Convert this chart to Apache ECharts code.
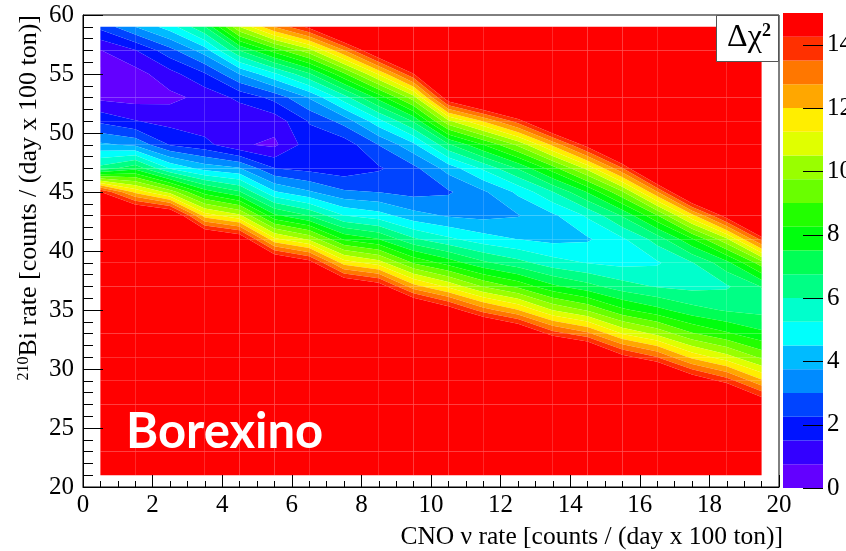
<!DOCTYPE html>
<html>
<head>
<meta charset="utf-8">
<title>CNO vs 210Bi scan</title>
<script src="https://cdn.jsdelivr.net/npm/echarts@6/dist/echarts.min.js"></script>
<style>
  html, body { margin: 0; padding: 0; background: #fff; }
  #chart { width: 846px; height: 551px; }
</style>
</head>
<body>
<div id="chart"></div>
<script>
// Scan grid: CNO nu rate (columns) and 210Bi rate (rows, top row first)
const cnoRate = [0.5, 1.5, 2.5, 3.5, 4.5, 5.5, 6.5, 7.5, 8.5, 9.5, 10.5, 11.5, 12.5, 13.5, 14.5, 15.5, 16.5, 17.5, 18.5, 19.5];
const biRate = [59, 57, 55, 53, 51, 49, 47, 45, 43, 41, 39, 37, 35, 33, 31, 29, 27, 25, 23, 21];

// Delta chi-square at each grid node, one row per 210Bi rate
const deltaChi2 = [
  [2.46, 3.75, 4.88, 6.73, 10.5, 12.8, 14.5, 17.3, 20.5, 24.4, 34.3, 35.2, 36.6, 40.8, 45.2, 51.7, 63.6, 76.7, 86.4, 105.9],
  [0.72, 1.45, 2.73, 4.13, 6.75, 8.57, 10.2, 12.7, 15.6, 19.0, 27.0, 28.3, 29.9, 33.7, 37.8, 43.7, 54.0, 65.6, 74.4, 91.6],
  [0.30, 0.45, 1.22, 2.17, 3.77, 5.11, 6.63, 8.85, 11.35, 14.2, 20.6, 22.1, 23.9, 27.3, 31.0, 36.2, 45.1, 55.2, 63.2, 78.3],
  [0.56, 0.45, 0.55, 0.97, 1.70, 2.49, 3.80, 5.66, 7.79, 10.16, 15.0, 16.7, 18.5, 21.6, 24.9, 29.4, 37.0, 45.7, 52.8, 65.8],
  [2.10, 1.54, 1.25, 1.01, 0.78, 1.05, 2.30, 3.28, 4.98, 6.83, 10.32, 12.03, 13.82, 16.5, 19.4, 23.3, 29.7, 37.0, 43.3, 54.5],
  [3.90, 3.60, 2.20, 1.75, 0.85, 0.60, 1.90, 1.82, 3.02, 4.32, 6.62, 8.23, 9.90, 12.18, 14.68, 18.0, 23.1, 29.3, 34.6, 44.1],
  [6.30, 7.30, 5.20, 4.20, 3.82, 2.27, 2.00, 1.79, 2.15, 2.78, 4.05, 5.37, 6.81, 8.64, 10.71, 13.40, 17.45, 22.4, 27.0, 34.7],
  [14.30, 11.80, 10.20, 7.87, 6.84, 4.59, 3.85, 3.11, 2.98, 2.74, 2.90, 3.62, 4.66, 5.98, 7.56, 9.65, 12.69, 16.54, 20.3, 26.5],
  [19.3, 16.4, 15.77, 11.66, 10.66, 7.68, 6.72, 5.26, 4.83, 4.02, 3.67, 3.53, 3.70, 4.35, 5.37, 6.84, 8.94, 11.75, 14.75, 19.48],
  [25.0, 21.7, 21.3, 16.1, 15.22, 11.45, 10.37, 8.14, 7.51, 6.12, 5.42, 4.82, 4.49, 4.28, 4.40, 5.12, 6.31, 8.15, 10.34, 13.74],
  [31.3, 27.7, 27.5, 21.1, 20.5, 15.86, 14.70, 11.65, 10.87, 8.91, 7.93, 6.91, 6.26, 5.57, 5.21, 5.03, 5.15, 5.95, 7.27, 9.42],
  [38.2, 34.2, 34.4, 26.8, 26.4, 20.9, 19.7, 15.75, 14.89, 12.32, 11.08, 9.69, 8.80, 7.67, 7.03, 6.32, 5.94, 5.78, 5.90, 6.78],
  [45.6, 41.2, 41.9, 32.9, 32.9, 26.5, 25.4, 20.4, 19.5, 16.32, 14.85, 13.11, 12.02, 10.46, 9.64, 8.41, 7.73, 7.03, 6.66, 6.51],
  [53.6, 48.8, 50.0, 39.6, 40.0, 32.6, 31.6, 25.6, 24.7, 20.9, 19.2, 17.1, 15.86, 13.87, 12.94, 11.20, 10.29, 9.08, 8.36, 7.68],
  [62.1, 57.0, 58.6, 46.8, 47.7, 39.3, 38.3, 31.3, 30.5, 25.9, 24.1, 21.6, 20.3, 17.88, 16.88, 14.62, 13.52, 11.80, 10.81, 9.59],
  [71.0, 65.6, 68.0, 54.5, 56.0, 46.4, 45.7, 37.5, 36.8, 31.5, 29.5, 26.7, 25.2, 22.4, 21.4, 18.6, 17.38, 15.14, 13.91, 12.13],
  [80.7, 74.8, 77.8, 62.7, 64.7, 54.1, 53.6, 44.2, 43.5, 37.5, 35.4, 32.2, 30.7, 27.5, 26.5, 23.1, 21.9, 19.0, 17.6, 15.24],
  [90.6, 84.4, 88.2, 71.4, 74.0, 62.2, 61.9, 51.3, 50.8, 44.0, 41.7, 38.2, 36.7, 33.0, 32.2, 28.2, 26.8, 23.5, 21.9, 18.9],
  [101.2, 94.5, 99.0, 80.5, 84.0, 70.9, 70.8, 58.8, 58.7, 50.9, 48.5, 44.7, 43.2, 39.1, 38.3, 33.8, 32.4, 28.4, 26.6, 23.0],
  [112.0, 105.0, 110.0, 90.0, 94.0, 79.9, 80.2, 67.0, 66.8, 58.3, 55.9, 51.7, 50.1, 45.5, 45.0, 39.8, 38.4, 33.8, 31.9, 27.6]
];

// Contour levels (20 bands between 0 and 15) and axis tick labels
const contourLevels = [0, 0.75, 1.5, 2.25, 3, 3.75, 4.5, 5.25, 6, 6.75, 7.5, 8.25, 9, 9.75, 10.5, 11.25, 12, 12.75, 13.5, 14.25, 15];
const chi2Ticks = [0, 2, 4, 6, 8, 10, 12, 14];
const cnoTicks = [0, 2, 4, 6, 8, 10, 12, 14, 16, 18, 20];
const biTicks = [20, 25, 30, 35, 40, 45, 50, 55, 60];

// Violet-to-red palette, one colour per contour band
const bandColors = [
  '#6300ff', '#3300ff', '#0014ff', '#0044ff', '#008bff', '#00bbff', '#00fffc', '#00ffcc', '#00ff85', '#00ff55',
  '#00ff0e', '#22ff00', '#69ff00', '#99ff00', '#e0ff00', '#ffee00', '#ffa700', '#ff7700', '#ff3000', '#ff0000'
];

const serif = '"Liberation Serif", "Times New Roman", serif';
const nBands = contourLevels.length - 1;

// One item per grid cell (between four neighbouring nodes)
const cells = [];
for (let r = 0; r < biRate.length - 1; r++) {
  for (let c = 0; c < cnoRate.length - 1; c++) cells.push([c, r]);
}

// Filled contours: walk each cell's perimeter and keep the part of it inside each band,
// with linear interpolation of the level crossings along the cell edges
function renderCell(params, api) {
  const c = api.value(0), r = api.value(1);
  const corners = [[c, r], [c + 1, r], [c + 1, r + 1], [c, r + 1]].map(([i, j]) => ({
    x: cnoRate[i], y: biRate[j], v: deltaChi2[j][i]
  }));
  const children = [];
  for (let k = 0; k < nBands; k++) {
    const lo = k === 0 ? -Infinity : contourLevels[k];
    const hi = k === nBands - 1 ? Infinity : contourLevels[k + 1];
    const pts = [];
    for (let e = 0; e < 4; e++) {
      const a = corners[e], b = corners[(e + 1) % 4];
      if (a.v >= lo && a.v < hi) pts.push([a.x, a.y]);
      const ts = [];
      [lo, hi].forEach(L => {
        if (!isFinite(L)) return;
        if ((a.v < L) !== (b.v < L)) ts.push((L - a.v) / (b.v - a.v));
      });
      ts.sort((p, q) => p - q);
      ts.forEach(t => pts.push([a.x + t * (b.x - a.x), a.y + t * (b.y - a.y)]));
    }
    if (pts.length >= 3) {
      children.push({
        type: 'polygon',
        shape: { points: pts.map(p => api.coord(p)) },
        style: { fill: bandColors[k] }
      });
    }
  }
  return { type: 'group', children };
}

// Colour bar blocks, one per band
const barBlocks = contourLevels.slice(0, -1).map((lo, k) => [lo, contourLevels[k + 1], k]);

function renderBlock(params, api) {
  const lo = api.value(0), hi = api.value(1), k = api.value(2);
  const p0 = api.coord([0, hi]);
  const p1 = api.coord([1, lo]);
  return {
    type: 'rect',
    shape: { x: p0[0], y: p0[1], width: p1[0] - p0[0], height: p1[1] - p0[1] },
    style: { fill: bandColors[k] }
  };
}

// Colour bar tick marks, drawn from the right edge into the bar
function renderBarTick(params, api) {
  const a = api.coord([0.5, api.value(0)]);
  const b = api.coord([1, api.value(0)]);
  const y = Math.round(a[1]) + 0.5;
  return {
    type: 'line',
    shape: { x1: a[0], y1: y, x2: b[0], y2: y },
    style: { stroke: '#000', lineWidth: 1 }
  };
}

const chart = echarts.init(document.getElementById('chart'), null, { renderer: 'canvas' });

const tickLabel = { color: '#000', fontFamily: serif, fontSize: 25 };

chart.setOption({
  animation: false,
  backgroundColor: '#fff',
  grid: [
    {
      left: 83, top: 15, width: 696, height: 472, containLabel: false, outerBoundsMode: 'none',
      show: true, borderColor: '#000', borderWidth: 1, backgroundColor: '#fff'
    },
    { left: 783, top: 13, width: 40, height: 475, containLabel: false, outerBoundsMode: 'none' }
  ],
  xAxis: [
    {
      gridIndex: 0, type: 'value', min: 0, max: 20, interval: 2, z: 5,
      axisLine: { show: true, lineStyle: { color: '#000', width: 1 } },
      axisTick: { show: true, inside: true, length: 12, customValues: cnoTicks, lineStyle: { color: '#000', width: 1 } },
      minorTick: { show: true, splitNumber: 4, length: 6, lineStyle: { color: '#000', width: 1 } },
      splitLine: { show: false },
      axisLabel: Object.assign({ margin: 6, customValues: cnoTicks }, tickLabel)
    },
    { gridIndex: 1, type: 'value', min: 0, max: 1, show: false }
  ],
  yAxis: [
    {
      gridIndex: 0, type: 'value', min: 20, max: 60, interval: 5, z: 5,
      axisLine: { show: true, lineStyle: { color: '#000', width: 1 } },
      axisTick: { show: true, inside: true, length: 20, customValues: biTicks, lineStyle: { color: '#000', width: 1 } },
      minorTick: { show: true, splitNumber: 5, length: 10, lineStyle: { color: '#000', width: 1 } },
      splitLine: { show: false },
      axisLabel: Object.assign({ margin: 9, customValues: biTicks }, tickLabel)
    },
    {
      gridIndex: 1, type: 'value', min: 0, max: 15, position: 'right',
      axisLine: { show: false, onZero: false },
      axisTick: { show: false },
      splitLine: { show: false },
      axisLabel: Object.assign({ margin: 4, customValues: chi2Ticks }, tickLabel)
    }
  ],
  series: [
    {
      type: 'custom', name: 'contours', xAxisIndex: 0, yAxisIndex: 0, z: 2, silent: true,
      data: cells, renderItem: renderCell
    },
    {
      type: 'custom', name: 'palette', xAxisIndex: 1, yAxisIndex: 1, z: 2, silent: true,
      data: barBlocks, renderItem: renderBlock
    },
    {
      type: 'custom', name: 'paletteTicks', xAxisIndex: 1, yAxisIndex: 1, z: 3, silent: true,
      data: chi2Ticks.map(v => [v]), renderItem: renderBarTick
    }
  ],
  graphic: [
    {
      type: 'text', x: 783, y: 537, z: 10,
      style: { text: 'CNO \u03bd rate [counts / (day x 100 ton)]', fill: '#000', font: '25.5px ' + serif, align: 'right', verticalAlign: 'middle' }
    },
    {
      type: 'text', x: 29, y: 15, rotation: Math.PI / 2, z: 10,
      style: {
        text: '{sup|210}Bi rate [counts / (day x 100 ton)]', fill: '#000', font: '26px ' + serif,
        align: 'right', verticalAlign: 'middle',
        rich: { sup: { fontFamily: serif, fontSize: 16, verticalAlign: 'top', fill: '#000' } }
      }
    },
    {
      type: 'rect', z: 10, shape: { x: 716.5, y: 15.5, width: 62, height: 46 },
      style: { fill: '#fff', stroke: '#555', lineWidth: 1 }
    },
    {
      type: 'text', x: 749, y: 38, z: 11,
      style: {
        text: '\u0394\u03c7{sup|2}', fill: '#000', font: '32px ' + serif, align: 'center', verticalAlign: 'middle',
        rich: { sup: { fontFamily: serif, fontSize: 18, fontWeight: 'bold', verticalAlign: 'top', fill: '#000' } }
      }
    },
    {
      type: 'text', x: 126, y: 432, z: 10,
      style: { text: 'Borexino', fill: '#fff', font: 'bold 49px Lato, "Open Sans", sans-serif', align: 'left', verticalAlign: 'middle' }
    }
  ]
});
</script>
</body>
</html>
